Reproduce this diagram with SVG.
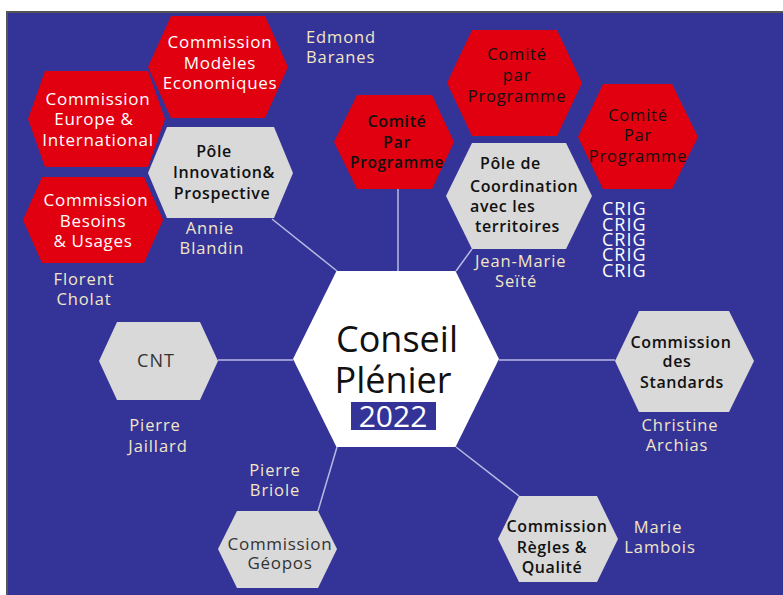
<svg xmlns="http://www.w3.org/2000/svg" width="783" height="595" viewBox="0 0 783 595">
<style>
  text { font-family: "Open Sans", "Noto Sans", "Liberation Sans", sans-serif; text-anchor: middle; }
  .red { fill: #e1000f; }
  .gray { fill: #d9d9d9; }
  .wt { fill: #ffffff; font-size: 17px; letter-spacing: 0.7px; }
  .bt { fill: #111111; font-size: 16px; font-weight: 600; letter-spacing: 0.6px; }
  .rt { fill: #111111; font-size: 16.5px; letter-spacing: 0.8px; }
  .gt { fill: #333333; font-size: 17px; letter-spacing: 0.7px; }
  .nm { fill: #f3e6c4; font-size: 16.5px; letter-spacing: 0.9px; }
  .crig { fill: #ffffff; font-size: 18px; font-weight: 500; letter-spacing: 1px; text-anchor: start; }
  .conn line { stroke: #b9b9e4; stroke-width: 1.5; }
</style>
<rect x="0" y="0" width="783" height="595" fill="#ffffff"/>
<rect x="7" y="12" width="790" height="600" fill="#343498" stroke="#555555" stroke-width="2"/>

<g id="connectors" class="conn">
  <line x1="218" y1="360" x2="293" y2="360"/>
  <line x1="398" y1="189" x2="398" y2="271"/>
  <line x1="272" y1="219" x2="337" y2="271"/>
  <line x1="472" y1="249" x2="456" y2="271"/>
  <line x1="499" y1="360" x2="615" y2="360"/>
  <line x1="456" y1="447" x2="519" y2="496"/>
  <line x1="337" y1="447" x2="318" y2="511"/>
</g>

<g id="commission-modeles">
  <polygon class="red" points="148,67 171,16 265,16 288,67 265,118 171,118"/>
  <text class="wt" x="220" y="48">Commission</text>
  <text class="wt" x="220" y="69">Modèles</text>
  <text class="wt" x="220" y="89">Economiques</text>
</g>
<text id="edmond" class="nm" x="306" y="43" style="text-anchor:start">Edmond</text>
<text id="baranes" class="nm" x="306" y="63" style="text-anchor:start">Baranes</text>

<g id="commission-europe">
  <polygon class="red" points="28,119 45,71 148,71 165,119 148,167 45,167"/>
  <text class="wt" x="98" y="105">Commission</text>
  <text class="wt" x="94" y="125">Europe &amp;</text>
  <text class="wt" x="98" y="146">International</text>
</g>

<g id="commission-besoins">
  <polygon class="red" points="23,220 42,177 144,177 163,220 144,263 42,263"/>
  <text class="wt" x="96" y="206">Commission</text>
  <text class="wt" x="93" y="227">Besoins</text>
  <text class="wt" x="93" y="247">&amp; Usages</text>
</g>
<g id="florent-cholat">
  <text class="nm" x="84" y="285">Florent</text>
  <text class="nm" x="84" y="305">Cholat</text>
</g>

<g id="pole-innovation">
  <polygon class="gray" points="148,173 167,127 274,127 293,173 274,218 167,218"/>
  <text class="bt" x="214" y="157">Pôle</text>
  <text class="bt" x="224" y="178">Innovation&amp;</text>
  <text class="bt" x="222" y="199">Prospective</text>
</g>
<g id="annie-blandin">
  <text class="nm" x="210" y="234">Annie</text>
  <text class="nm" x="212" y="254">Blandin</text>
</g>

<g id="comite-centre">
  <polygon class="red" points="334,142 357,95 432,95 454,142 432,189 357,189"/>
  <text class="bt" x="397" y="127">Comité</text>
  <text class="bt" x="397" y="148">Par</text>
  <text class="bt" x="397" y="168" style="font-size:15.5px">Programme</text>
</g>

<g id="comite-haut">
  <polygon class="red" points="447,83 472,30 557,30 582,83 557,136 472,136"/>
  <text class="rt" x="517" y="60">Comité</text>
  <text class="rt" x="517" y="81">par</text>
  <text class="rt" x="517" y="102">Programme</text>
</g>

<g id="comite-droite">
  <polygon class="red" points="578,137 603,84 672,84 698,137 672,189 603,189"/>
  <text class="rt" x="638" y="121">Comité</text>
  <text class="rt" x="638" y="141">Par</text>
  <text class="rt" x="638" y="162">Programme</text>
</g>

<g id="crig">
  <text class="crig" x="602" y="215">CRIG</text>
  <text class="crig" x="602" y="231">CRIG</text>
  <text class="crig" x="602" y="246">CRIG</text>
  <text class="crig" x="602" y="261">CRIG</text>
  <text class="crig" x="602" y="277">CRIG</text>
</g>

<g id="pole-coordination">
  <polygon class="gray" points="446,196 472,143 566,143 592,196 566,249 472,249"/>
  <text class="bt" x="480" y="169" style="text-anchor:start">Pôle de</text>
  <text class="bt" x="470" y="192" style="text-anchor:start">Coordination</text>
  <text class="bt" x="470" y="212" style="text-anchor:start">avec les</text>
  <text class="bt" x="475" y="232" style="text-anchor:start">territoires</text>
</g>
<g id="jean-marie-seite">
  <text class="nm" x="475" y="267" style="text-anchor:start">Jean-Marie</text>
  <text class="nm" x="495" y="287" style="text-anchor:start">Seïté</text>
</g>

<g id="conseil-plenier">
  <polygon fill="#ffffff" points="293,359 336.5,271 455.5,271 499,359 455.5,447 336.5,447"/>
  <text x="397" y="352" style="font-size:36px;fill:#111111">Conseil</text>
  <text x="393" y="393" style="font-size:36px;fill:#111111">Plénier</text>
  <rect x="351" y="402" width="85" height="28" fill="#343498"/>
  <text x="393" y="427" style="font-size:30px;fill:#ffffff">2022</text>
</g>

<g id="cnt">
  <polygon class="gray" points="99,361 117,322 200,322 218,361 200,400 117,400"/>
  <text class="gt" x="156" y="367" style="font-size:18px;letter-spacing:1px">CNT</text>
</g>
<g id="pierre-jaillard">
  <text class="nm" x="155" y="431">Pierre</text>
  <text class="nm" x="158" y="452">Jaillard</text>
</g>

<g id="commission-standards">
  <polygon class="gray" points="615,361 639,311 729,311 754,361 729,412 639,412"/>
  <text class="bt" x="681" y="348">Commission</text>
  <text class="bt" x="677" y="367">des</text>
  <text class="bt" x="682" y="388">Standards</text>
</g>
<g id="christine-archias">
  <text class="nm" x="680" y="431">Christine</text>
  <text class="nm" x="677" y="451">Archias</text>
</g>

<g id="commission-regles">
  <polygon class="gray" points="498,539 519,496 597,496 618,539 597,582 519,582"/>
  <text class="bt" x="557" y="532">Commission</text>
  <text class="bt" x="552" y="553">Règles &amp;</text>
  <text class="bt" x="552" y="573">Qualité</text>
</g>
<g id="marie-lambois">
  <text class="nm" x="658" y="533">Marie</text>
  <text class="nm" x="660" y="553">Lambois</text>
</g>

<g id="commission-geopos">
  <polygon class="gray" points="218,549 237,511 318,511 337,549 318,588 237,588"/>
  <text class="gt" x="280" y="550">Commission</text>
  <text class="gt" x="280" y="569">Géopos</text>
</g>
<g id="pierre-briole">
  <text class="nm" x="275" y="476">Pierre</text>
  <text class="nm" x="275" y="496">Briole</text>
</g>
</svg>
